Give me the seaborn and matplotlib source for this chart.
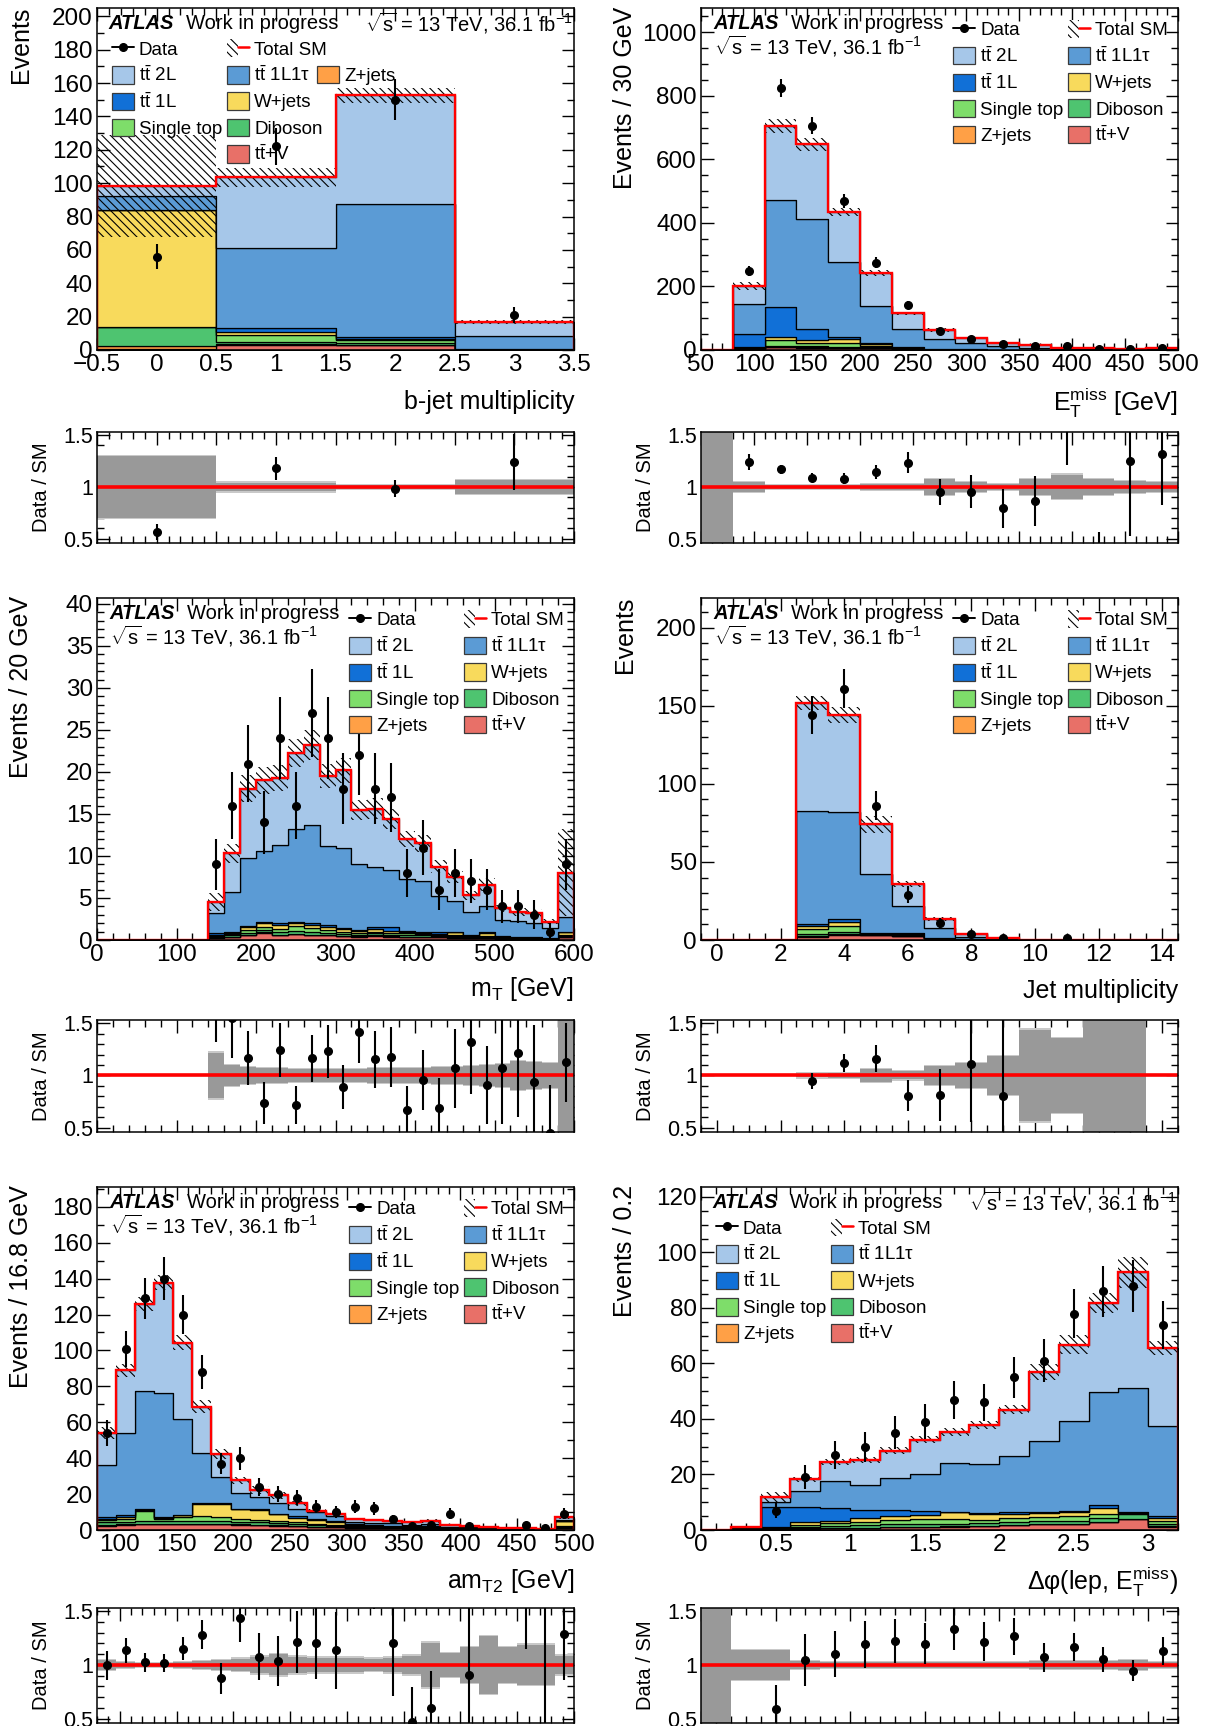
import numpy as np
import pandas as pd
import matplotlib
matplotlib.use("Agg")
import matplotlib.pyplot as plt
import seaborn as sns
from matplotlib.patches import Patch
from matplotlib.lines import Line2D
from matplotlib.ticker import MultipleLocator, AutoMinorLocator, FuncFormatter
from matplotlib.legend_handler import HandlerTuple

# ------------------------------------------------------------------ samples
SAMPLES = ["tt2L", "tt1L1tau", "tt1L", "wjets", "singletop", "diboson", "zjets", "ttv"]
LABELS = {
    "tt2L": r"$\mathrm{t\bar{t}}$ 2L",
    "tt1L1tau": r"$\mathrm{t\bar{t}}$ 1L1τ",
    "tt1L": r"$\mathrm{t\bar{t}}$ 1L",
    "wjets": "W+jets",
    "singletop": "Single top",
    "diboson": "Diboson",
    "zjets": "Z+jets",
    "ttv": r"$\mathrm{t\bar{t}}$+V",
}
COLORS = {
    "tt2L": "#A6C7E9",
    "tt1L1tau": "#5B9BD5",
    "tt1L": "#1170D7",
    "wjets": "#F8DA5C",
    "singletop": "#7EDD6A",
    "diboson": "#4EC470",
    "zjets": "#FFA046",
    "ttv": "#E87068",
}

# ------------------------------------------------------------------ b-jet multiplicity
bjet_edges = [-0.5, 0.5, 1.5, 2.5, 3.5]
bjet_tt2L = [6.1, 42.2, 65.2, 8.5]
bjet_tt1L1tau = [8.3, 48.4, 79.8, 7.6]
bjet_tt1L = [0.4, 1.9, 0.9, 0.1]
bjet_wjets = [69.7, 2.0, 0.8, 0.1]
bjet_singletop = [0.5, 4.0, 1.5, 0.1]
bjet_diboson = [11.4, 1.7, 1.2, 0.1]
bjet_zjets = [1.5, 0.3, 0.2, 0.1]
bjet_ttv = [0.6, 3.0, 3.0, 0.3]
bjet_data = [56, 122, 150, 21]
bjet_unc = [0.31, 0.055, 0.028, 0.08]

# ------------------------------------------------------------------ ETmiss
met_edges = [50, 80, 110, 140, 170, 200, 230, 260, 290, 320, 350, 380, 410, 440, 470, 500]
met_tt2L = [0.2, 58.5, 232, 234.4, 157, 103, 50, 29.5, 14.7, 10, 7.2, 3.3, 3.1, 1.2, 2.5]
met_tt1L1tau = [0.3, 94.5, 339, 346.6, 235.5, 115, 56.6, 29.5, 20.8, 11.5, 7.0, 3.3, 2.5, 1.0, 2.3]
met_tt1L = [0.2, 39, 92, 35, 8.5, 5.2, 1.0, 0.4, 0.2, 0.1, 0.05, 0.05, 0.05, 0.0, 0.1]
met_wjets = [0.1, 2, 11, 10, 10.5, 4.5, 1.3, 0.6, 0.3, 0.1, 0.1, 0.05, 0.05, 0.03, 0.05]
met_singletop = [0.1, 3, 17, 9.5, 12, 5, 2, 0.8, 0.4, 0.2, 0.1, 0.05, 0.05, 0.02, 0.05]
met_diboson = [0.05, 2, 4, 3, 3, 2.5, 1.2, 0.8, 0.5, 0.3, 0.2, 0.1, 0.1, 0.05, 0.1]
met_zjets = [0.05, 1, 2, 1.5, 1, 0.8, 0.4, 0.2, 0.1, 0.05, 0.05, 0.0, 0.0, 0.0, 0.0]
met_ttv = [0.1, 2, 8, 7, 7, 5, 2.5, 1.2, 0.7, 0.4, 0.3, 0.2, 0.15, 0.1, 0.2]
met_data = [0, 250, 825, 705, 470, 275, 142, 60, 36, 18, 13, 12, 2, 3, 7]
met_unc = [1.0, 0.06, 0.03, 0.03, 0.03, 0.04, 0.04, 0.09, 0.06, 0.04, 0.09, 0.13, 0.09, 0.07, 0.06]

# ------------------------------------------------------------------ mT
mt_edges = [0, 20, 40, 60, 80, 100, 120, 140, 160, 180, 200, 220, 240, 260, 280, 300,
            320, 340, 360, 380, 400, 420, 440, 460, 480, 500, 520, 540, 560, 580, 600]
mt_tt2L = [0, 0, 0, 0, 0, 0, 0, 1.35, 4.6, 8.3, 8.4, 8.0, 9.1, 9.5, 8.3, 9.3, 6.4, 6.9, 6.1,
           4.8, 4.5, 3.5, 2.9, 2.0, 2.6, 1.35, 1.0, 1.2, 0.8, 5.3]
mt_tt1L1tau = [0, 0, 0, 0, 0, 0, 0, 2.4, 4.7, 8.0, 8.4, 9.3, 11.0, 11.7, 9.4, 9.5, 7.9, 7.1,
               6.8, 6.1, 6.0, 4.3, 3.6, 2.7, 3.1, 1.9, 1.9, 1.7, 1.2, 1.7]
mt_tt1L = [0, 0, 0, 0, 0, 0, 0, 0.2, 0.2, 0.2, 0.15, 0.25, 0.2, 0.2, 0.2, 0.15, 0.15, 0.35,
           0.4, 0.15, 0.15, 0.2, 0.05, 0.1, 0.08, 0.05, 0.05, 0.03, 0.03, 0.1]
mt_wjets = [0, 0, 0, 0, 0, 0, 0, 0.05, 0.1, 0.3, 0.45, 0.5, 0.35, 0.4, 0.45, 0.3, 0.2, 0.25,
            0.25, 0.15, 0.15, 0.1, 0.4, 0.08, 0.4, 0.1, 0.1, 0.05, 0.03, 0.3]
mt_singletop = [0, 0, 0, 0, 0, 0, 0, 0.1, 0.15, 0.35, 0.4, 0.3, 0.6, 0.45, 0.3, 0.25, 0.2,
                0.2, 0.2, 0.2, 0.15, 0.1, 0.1, 0.1, 0.1, 0.08, 0.05, 0.05, 0.03, 0.1]
mt_diboson = [0, 0, 0, 0, 0, 0, 0, 0.15, 0.15, 0.25, 0.3, 0.3, 0.3, 0.3, 0.25, 0.2, 0.2,
              0.25, 0.2, 0.2, 0.2, 0.15, 0.15, 0.1, 0.1, 0.1, 0.08, 0.05, 0.04, 0.15]
mt_zjets = [0, 0, 0, 0, 0, 0, 0, 0.05, 0.05, 0.05, 0.05, 0.05, 0.05, 0.05, 0.05, 0.05, 0.05,
            0.05, 0.05, 0.05, 0.05, 0.05, 0.05, 0.02, 0.02, 0.02, 0.02, 0.02, 0.02, 0.05]
mt_ttv = [0, 0, 0, 0, 0, 0, 0, 0.25, 0.35, 0.55, 0.85, 0.6, 0.7, 0.6, 0.55, 0.45, 0.4, 0.5,
          0.4, 0.35, 0.3, 0.3, 0.25, 0.2, 0.2, 0.15, 0.1, 0.1, 0.05, 0.3]
mt_data = [0, 0, 0, 0, 0, 0, 0, 9, 16, 21, 14, 24, 16, 27, 24, 18, 22, 18, 17, 8, 11, 6, 8,
           7, 6, 4, 4, 3, 1, 9]
mt_unc = [0, 0, 0, 0, 0, 0, 0, 0.23, 0.11, 0.09, 0.085, 0.08, 0.075, 0.075, 0.075, 0.075,
          0.075, 0.08, 0.08, 0.08, 0.085, 0.09, 0.09, 0.1, 0.11, 0.12, 0.15, 0.14, 0.13, 0.65]

# ------------------------------------------------------------------ jet multiplicity
jet_edges = [-0.5, 0.5, 1.5, 2.5, 3.5, 4.5, 5.5, 6.5, 7.5, 8.5, 9.5, 10.5, 11.5, 12.5, 13.5, 14.5]
jet_tt2L = [0, 0, 0, 69.5, 62.0, 32.0, 14.5, 5.5, 1.8, 0.65, 0.15, 0.08, 0.04, 0.02, 0]
jet_tt1L1tau = [0, 0, 0, 72.5, 68.5, 37.5, 17.3, 6.5, 1.3, 0.4, 0.1, 0.05, 0.01, 0, 0]
jet_tt1L = [0, 0, 0, 1.2, 1.7, 0.2, 0.2, 0.1, 0.03, 0.02, 0, 0, 0, 0, 0]
jet_wjets = [0, 0, 0, 1.5, 3.0, 0.3, 0.5, 0.1, 0.05, 0.03, 0, 0, 0, 0, 0]
jet_singletop = [0, 0, 0, 3.5, 3.5, 0.4, 0.5, 0.1, 0.05, 0.02, 0, 0, 0, 0, 0]
jet_diboson = [0, 0, 0, 1.5, 1.5, 0.5, 0.4, 0.15, 0.05, 0.02, 0, 0, 0, 0, 0]
jet_zjets = [0, 0, 0, 0.3, 0.3, 0.1, 0.1, 0.05, 0.02, 0.01, 0, 0, 0, 0, 0]
jet_ttv = [0, 0, 0, 2.0, 3.5, 3.0, 2.5, 1.0, 0.3, 0.1, 0.05, 0.02, 0, 0, 0]
jet_data = [0, 0, 0, 144, 161, 86, 29, 11, 4, 1, 0, 1, 0, 0, 0]
jet_unc = [0, 0, 0, 0.03, 0.035, 0.07, 0.05, 0.1, 0.13, 0.2, 0.45, 0.37, 1.0, 1.0, 0]

# ------------------------------------------------------------------ amT2
amt2_edges = [80.0, 96.8, 113.6, 130.4, 147.2, 164.0, 180.8, 197.6, 214.4, 231.2, 248.0,
              264.8, 281.6, 298.4, 315.2, 332.0, 348.8, 365.6, 382.4, 399.2, 416.0, 432.8,
              449.6, 466.4, 483.2, 500.0]
amt2_tt2L = [18.2, 35.2, 48.2, 61.2, 42.5, 25.7, 12.8, 7.0, 4.1, 4.3, 3.1, 0.8, 1.0, 1.3,
             1.5, 1.3, 1.3, 1.7, 0.9, 0.7, 0.4, 0.5, 0.5, 0.25, 1.5]
amt2_tt1L1tau = [28.9, 45.3, 65.8, 69.4, 53.2, 27.9, 14.7, 9.0, 6.7, 5.9, 4.1, 3.9, 2.9,
                 1.4, 1.3, 1.2, 0.85, 0.95, 0.45, 0.15, 0.2, 0.2, 0.1, 0.05, 0.4]
amt2_tt1L = [1.0, 1.5, 0.8, 0.6, 0.5, 0.5, 0.3, 0.3, 0.3, 0.2, 0.8, 0.6, 0.3, 0.5, 0.3, 0.3,
             0.2, 0.3, 0.1, 0.1, 0.05, 0.03, 0.0, 0.0, 0.2]
amt2_wjets = [0.8, 1.0, 0.5, 0.5, 1.0, 7.0, 7.5, 5.5, 5.5, 4.0, 2.5, 2.0, 1.8, 0.5, 0.6, 0.5,
              0.5, 0.6, 0.3, 0.3, 0.1, 0.05, 0.03, 0.0, 2.5]
amt2_singletop = [1.0, 1.5, 5.5, 1.2, 2.0, 2.5, 2.0, 1.5, 1.5, 1.2, 1.0, 0.8, 0.6, 0.4, 0.4,
                  0.3, 0.3, 0.3, 0.2, 0.2, 0.1, 0.1, 0.05, 0.03, 0.5]
amt2_diboson = [1.5, 1.2, 1.5, 1.3, 1.5, 1.5, 1.5, 1.3, 1.2, 1.0, 0.9, 0.8, 0.6, 0.5, 0.4,
                0.4, 0.3, 0.3, 0.2, 0.2, 0.2, 0.1, 0.1, 0.05, 0.6]
amt2_zjets = [0.3, 0.3, 0.3, 0.3, 0.3, 0.3, 0.3, 0.2, 0.2, 0.2, 0.2, 0.1, 0.1, 0.1, 0.1, 0.1,
              0.05, 0.05, 0.05, 0.05, 0.05, 0.02, 0.02, 0.02, 0.1]
amt2_ttv = [2.5, 3.0, 3.2, 3.2, 3.3, 3.3, 3.2, 3.0, 2.8, 2.5, 2.2, 1.8, 1.5, 1.2, 1.0, 0.9,
            0.8, 0.8, 0.6, 0.5, 0.4, 0.3, 0.3, 0.2, 1.2]
amt2_data = [54, 101, 129, 140, 120, 88, 37, 40, 24, 20, 18, 13, 10, 13, 12, 6, 2, 3, 9, 2,
             0, 0, 3, 1, 9]
amt2_unc = [0.06, 0.04, 0.03, 0.03, 0.04, 0.05, 0.06, 0.07, 0.09, 0.11, 0.09, 0.08, 0.08,
            0.08, 0.07, 0.08, 0.1, 0.22, 0.12, 0.18, 0.28, 0.18, 0.2, 0.2, 0.1]

# ------------------------------------------------------------------ dphi(lep, ETmiss)
dphi_edges = [0.0, 0.2, 0.4, 0.6, 0.8, 1.0, 1.2, 1.4, 1.6, 1.8, 2.0, 2.2, 2.4, 2.6, 2.8, 3.0, 3.2]
dphi_tt2L = [0.02, 0.3, 1.6, 4.0, 6.7, 9.1, 10.0, 12.4, 11.2, 14.0, 16.8, 24.8, 27.6, 32.0, 41.6, 28.0]
dphi_tt1L1tau = [0.01, 0.2, 1.8, 6.0, 9.9, 8.9, 11.4, 13.2, 17.4, 17.6, 20.2, 25.6, 32.4, 40.8, 44.7, 32.4]
dphi_tt1L = [0.02, 0.25, 7.4, 5.3, 4.5, 3.0, 2.1, 1.6, 0.2, 0.4, 0.5, 0.4, 0.4, 1.2, 0.2, 1.0]
dphi_wjets = [0, 0.05, 0.15, 1.0, 1.0, 1.2, 1.6, 1.5, 2.4, 2.1, 1.5, 1.5, 1.5, 2.1, 0.2, 0.9]
dphi_singletop = [0, 0.05, 0.2, 0.8, 1.0, 1.3, 1.5, 1.8, 1.7, 1.3, 1.5, 1.5, 1.5, 1.5, 0.4, 1.2]
dphi_diboson = [0, 0.05, 0.2, 0.5, 0.6, 0.8, 0.9, 0.9, 1.0, 0.9, 1.0, 1.1, 1.1, 1.3, 1.8, 0.8]
dphi_zjets = [0, 0, 0.05, 0.1, 0.1, 0.1, 0.1, 0.1, 0.1, 0.1, 0.1, 0.1, 0.1, 0.1, 0.1, 0.1]
dphi_ttv = [0, 0.1, 0.4, 0.5, 0.7, 0.8, 1.0, 1.1, 1.2, 1.4, 1.8, 2.0, 2.2, 2.8, 3.8, 1.2]
dphi_data = [0, 0, 7, 19, 27, 30, 35, 39, 47, 46, 55, 61, 78, 86, 88, 74]
dphi_unc = [1.0, 0.15, 0.15, 0.05, 0.04, 0.04, 0.04, 0.04, 0.04, 0.04, 0.04, 0.05, 0.05, 0.045, 0.06, 0.04]

# ------------------------------------------------------------------ style
sns.set_theme(style="ticks")
plt.rcParams.update({
    "font.family": ["Liberation Sans", "DejaVu Sans"],
    "mathtext.fontset": "custom",
    "mathtext.rm": "Liberation Sans",
    "mathtext.it": "Liberation Sans:italic",
    "mathtext.bf": "Liberation Sans:bold",
    "hatch.linewidth": 0.8,
    "axes.linewidth": 1.1,
    "axes.edgecolor": "black",
    "text.color": "black",
    "axes.labelcolor": "black",
    "xtick.color": "black",
    "ytick.color": "black",
})
HATCH = "\\\\\\\\"
RIM = 0.012  # width of the light rim around the ratio uncertainty band

W_PX, H_PX = 1207, 1726
fig = plt.figure(figsize=(W_PX / 100, H_PX / 100), dpi=100)
fig.patch.set_facecolor("white")

COLS = [(97, 574), (701, 1178)]
ROWS = [((8, 350), (432, 543)), ((598, 940), (1020, 1132)), ((1187, 1530), (1608, 1723))]


def add_axes(x0, x1, y0, y1):
    return fig.add_axes([x0 / W_PX, 1 - y1 / H_PX, (x1 - x0) / W_PX, (y1 - y0) / H_PX])


fmt = FuncFormatter(lambda v, p: ("%g" % round(v, 6)).replace("-", "\u2212"))

data_handle = Line2D([], [], color="black", marker="o", markersize=5.5, linewidth=1.4)
total_handle = (Patch(facecolor="white", edgecolor="black", linewidth=0, hatch=HATCH),
                Line2D([], [], color="red", linewidth=1.8))
blank_handle = Patch(facecolor="none", edgecolor="none")


def sample_handle(s):
    return Patch(facecolor=COLORS[s], edgecolor="#3a3a3a", linewidth=0.9)


LEG_KW = dict(frameon=False, fontsize=13.5, handlelength=1.2, handleheight=1.05,
              handletextpad=0.25, labelspacing=0.38, borderpad=0.0, borderaxespad=0.0,
              columnspacing=0.25, handler_map={tuple: HandlerTuple(ndivide=None)},
              loc="upper left")
HEAD_FS = 14.5


def header(ax, style):
    t = ax.transAxes
    if style in ("tl", "br"):
        ax.text(0.023, 0.956, "ATLAS", weight="bold", style="italic", fontsize=HEAD_FS,
                transform=t, va="center")
        ax.text(0.187, 0.956, "Work in progress", fontsize=HEAD_FS, transform=t, va="center")
        ax.text(0.562, 0.956, r"$\sqrt{\mathrm{s}}$ = 13 TeV, 36.1 fb$^{-1}$", fontsize=HEAD_FS,
                transform=t, va="center")
    else:
        ax.text(0.027, 0.956, "ATLAS", weight="bold", style="italic", fontsize=HEAD_FS,
                transform=t, va="center")
        ax.text(0.189, 0.956, "Work in progress", fontsize=HEAD_FS, transform=t, va="center")
        ax.text(0.027, 0.889, r"$\sqrt{\mathrm{s}}$ = 13 TeV, 36.1 fb$^{-1}$", fontsize=HEAD_FS,
                transform=t, va="center")


def legend(ax, style):
    col1 = ["tt2L", "tt1L", "singletop"]
    col2 = ["tt1L1tau", "wjets", "diboson", "ttv"]
    if style == "tl":
        handles = [data_handle] + [sample_handle(s) for s in col1] + [blank_handle] + \
                  [total_handle] + [sample_handle(s) for s in col2]
        labels = ["Data"] + [LABELS[s] for s in col1] + [""] + ["Total SM"] + [LABELS[s] for s in col2]
        leg = ax.legend(handles, labels, ncol=2, bbox_to_anchor=(0.031, 0.908), **LEG_KW)
        ax.add_artist(leg)
        ax.legend([sample_handle("zjets")], ["Z+jets"], bbox_to_anchor=(0.461, 0.831), **LEG_KW)
    else:
        handles = [data_handle] + [sample_handle(s) for s in col1] + [sample_handle("zjets")] + \
                  [total_handle] + [sample_handle(s) for s in col2]
        labels = ["Data"] + [LABELS[s] for s in col1] + ["Z+jets"] + ["Total SM"] + [LABELS[s] for s in col2]
        anchor = {"r": (0.528, 0.964), "br": (0.031, 0.908)}[style]
        ax.legend(handles, labels, ncol=2, bbox_to_anchor=anchor, **LEG_KW)


def draw(p):
    (my0, my1), (ry0, ry1) = ROWS[p["row"]]
    cx0, cx1 = COLS[p["col"]]
    ax = add_axes(cx0, cx1, my0, my1)
    rax = add_axes(cx0, cx1, ry0, ry1)

    edges = np.asarray(p["edges"], float)
    centers = 0.5 * (edges[1:] + edges[:-1])
    widths = np.diff(edges)
    comps = p["comps"]
    frame = pd.DataFrame({
        "x": np.tile(centers, len(SAMPLES)),
        "w": np.concatenate([np.asarray(comps[s], float) for s in SAMPLES]),
        "sample": np.repeat(SAMPLES, len(centers)),
    })
    sns.histplot(data=frame, x="x", weights="w", hue="sample", hue_order=SAMPLES,
                 palette=COLORS, bins=[float(e) for e in edges], multiple="stack",
                 element="step", fill=True, alpha=1.0, edgecolor="black", linewidth=0.9,
                 legend=False, ax=ax)

    total = np.sum([np.asarray(comps[s], float) for s in SAMPLES], axis=0)
    unc = np.asarray(p["unc"], float)
    data = np.asarray(p["data"], float)
    m = total > 0
    ax.bar(centers[m], 2 * unc[m] * total[m], bottom=total[m] * (1 - unc[m]), width=widths[m],
           fill=False, hatch=HATCH, edgecolor="black", linewidth=0, zorder=3)
    ax.stairs(total, edges, color="red", linewidth=1.7, zorder=4)
    d = data > 0
    ax.errorbar(centers[d], data[d], yerr=np.sqrt(data[d]), fmt="o", color="black",
                markersize=5.5, elinewidth=1.5, capsize=0, zorder=5)

    # ratio panel: light rim + darker core uncertainty band
    rax.bar(centers[m], 2 * unc[m], bottom=1 - unc[m], width=widths[m], color="#c9c9c9",
            linewidth=0, zorder=1)
    core = np.clip(unc[m] - RIM, 0, None)
    rax.bar(centers[m], 2 * core, bottom=1 - core, width=widths[m], color="#999999",
            linewidth=0, zorder=1.5)
    rax.axhline(1.0, color="red", linewidth=2.6, zorder=2)
    r = d & (total >= 0.2)
    rax.errorbar(centers[r], data[r] / total[r], yerr=np.sqrt(data[r]) / total[r], fmt="o",
                 color="black", markersize=5.5, elinewidth=1.5, capsize=0, zorder=5)

    for a in (ax, rax):
        a.set_xlim(edges[0], edges[-1])
        a.xaxis.set_major_locator(MultipleLocator(p["xmaj"]))
        a.xaxis.set_minor_locator(AutoMinorLocator(p["xmin"]))
        a.tick_params(which="both", direction="in", top=True, right=True)
        a.tick_params(which="major", length=9, width=1.0)
        a.tick_params(which="minor", length=5, width=1.0)
        a.xaxis.set_major_formatter(fmt)
        a.yaxis.set_major_formatter(fmt)
        for sp in a.spines.values():
            sp.set_zorder(6)
    ax.set_ylim(0, p["ymax"])
    ax.yaxis.set_major_locator(MultipleLocator(p["ymaj"]))
    ax.yaxis.set_minor_locator(AutoMinorLocator(p["ymin"]))
    ax.tick_params(which="major", labelsize=17.5, pad=3)
    rax.set_ylim(0.46, 1.53)
    rax.yaxis.set_major_locator(MultipleLocator(0.5))
    rax.yaxis.set_minor_locator(AutoMinorLocator(5))
    rax.tick_params(which="major", labelsize=15.5, pad=3)
    rax.tick_params(labelbottom=False)

    ax.set_xlabel(p["xlabel"], fontsize=18, loc="right")
    ax.xaxis.set_label_coords(1.0, p["xlab_y"])
    ax.set_ylabel(p["ylabel"], fontsize=18, loc="top")
    ax.yaxis.set_label_coords(-0.135, 1.005)
    rax.set_xlabel("")
    rax.set_ylabel("Data / SM", fontsize=14.5)
    rax.yaxis.set_label_coords(-0.096, 0.5)

    header(ax, p["style"])
    legend(ax, p["style"])


PANELS = [
    dict(row=0, col=0, edges=bjet_edges,
         comps=dict(tt2L=bjet_tt2L, tt1L1tau=bjet_tt1L1tau, tt1L=bjet_tt1L, wjets=bjet_wjets,
                    singletop=bjet_singletop, diboson=bjet_diboson, zjets=bjet_zjets, ttv=bjet_ttv),
         data=bjet_data, unc=bjet_unc, ymax=205, xlabel="b-jet multiplicity", ylabel="Events",
         style="tl", xmaj=0.5, xmin=5, ymaj=20, ymin=2, xlab_y=-0.117),
    dict(row=0, col=1, edges=met_edges,
         comps=dict(tt2L=met_tt2L, tt1L1tau=met_tt1L1tau, tt1L=met_tt1L, wjets=met_wjets,
                    singletop=met_singletop, diboson=met_diboson, zjets=met_zjets, ttv=met_ttv),
         data=met_data, unc=met_unc, ymax=1076,
         xlabel=r"$\mathrm{E}_{\mathrm{T}}^{\mathrm{miss}}$ [GeV]", ylabel="Events / 30 GeV",
         style="r", xmaj=50, xmin=5, ymaj=200, ymin=4, xlab_y=-0.104),
    dict(row=1, col=0, edges=mt_edges,
         comps=dict(tt2L=mt_tt2L, tt1L1tau=mt_tt1L1tau, tt1L=mt_tt1L, wjets=mt_wjets,
                    singletop=mt_singletop, diboson=mt_diboson, zjets=mt_zjets, ttv=mt_ttv),
         data=mt_data, unc=mt_unc, ymax=40.7,
         xlabel=r"$\mathrm{m}_{\mathrm{T}}$ [GeV]", ylabel="Events / 20 GeV",
         style="r", xmaj=100, xmin=5, ymaj=5, ymin=5, xlab_y=-0.102),
    dict(row=1, col=1, edges=jet_edges,
         comps=dict(tt2L=jet_tt2L, tt1L1tau=jet_tt1L1tau, tt1L=jet_tt1L, wjets=jet_wjets,
                    singletop=jet_singletop, diboson=jet_diboson, zjets=jet_zjets, ttv=jet_ttv),
         data=jet_data, unc=jet_unc, ymax=219, xlabel="Jet multiplicity", ylabel="Events",
         style="r", xmaj=2, xmin=4, ymaj=50, ymin=5, xlab_y=-0.115),
    dict(row=2, col=0, edges=amt2_edges,
         comps=dict(tt2L=amt2_tt2L, tt1L1tau=amt2_tt1L1tau, tt1L=amt2_tt1L, wjets=amt2_wjets,
                    singletop=amt2_singletop, diboson=amt2_diboson, zjets=amt2_zjets, ttv=amt2_ttv),
         data=amt2_data, unc=amt2_unc, ymax=191,
         xlabel=r"$\mathrm{am}_{\mathrm{T2}}$ [GeV]", ylabel="Events / 16.8 GeV",
         style="r", xmaj=50, xmin=5, ymaj=20, ymin=2, xlab_y=-0.107),
    dict(row=2, col=1, edges=dphi_edges,
         comps=dict(tt2L=dphi_tt2L, tt1L1tau=dphi_tt1L1tau, tt1L=dphi_tt1L, wjets=dphi_wjets,
                    singletop=dphi_singletop, diboson=dphi_diboson, zjets=dphi_zjets, ttv=dphi_ttv),
         data=dphi_data, unc=dphi_unc, ymax=123.6,
         xlabel=r"Δφ(lep, $\mathrm{E}_{\mathrm{T}}^{\mathrm{miss}}$)", ylabel="Events / 0.2",
         style="br", xmaj=0.5, xmin=5, ymaj=20, ymin=4, xlab_y=-0.102),
]

for panel in PANELS:
    draw(panel)

fig.savefig("out.png", dpi=100, facecolor="white")
